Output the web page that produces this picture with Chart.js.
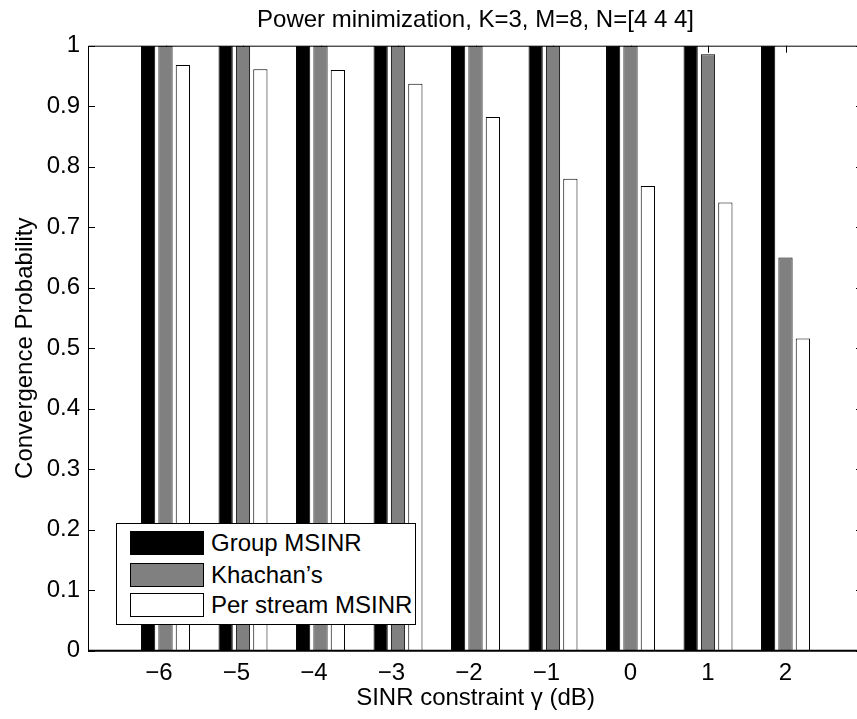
<!DOCTYPE html>
<html>
<head>
<meta charset="utf-8">
<title>Power minimization</title>
<script src="https://cdn.jsdelivr.net/npm/chart.js@4.4.0/dist/chart.umd.min.js"></script>
<style>
    html, body { margin: 0; padding: 0; background: #fff; overflow: hidden; }
    #wrap { position: relative; width: 857px; height: 719px; overflow: hidden; }
    #chart { position: absolute; left: 0; top: 0; }
    #legend {
        position: absolute; left: 116px; top: 523px; width: 300px; height: 102px;
        box-sizing: border-box; border: 1px solid #000; background: #fff;
        font-family: "Liberation Sans", Arial, sans-serif; font-size: 24px; color: #000;
    }
    .row { position: absolute; left: 13px; height: 24px; }
    .sw { position: absolute; left: 0; top: 0; width: 74px; height: 24px; box-sizing: border-box; border: 1px solid #000; }
    .lbl { position: absolute; left: 81px; top: 0; line-height: 24px; white-space: nowrap; }
</style>
</head>
<body>
<div id="wrap">
    <!-- the axes box runs a few pixels past the right edge of the figure -->
    <canvas id="chart" width="863" height="719"></canvas>
    <div id="legend"></div>
</div>
<script>
// SINR constraint (dB)
const sinrValues = [-6, -5, -4, -3, -2, -1, 0, 1, 2];
const xTickLabels = ['\u22126', '\u22125', '\u22124', '\u22123', '\u22122', '\u22121', '0', '1', '2'];

// convergence probability per method
const groupMsinr = [1, 1, 1, 1, 1, 1, 1, 1, 1];
const khachan = [1, 1, 1, 1, 1, 1, 1, 0.986, 0.65];
const perStreamMsinr = [0.968, 0.961, 0.96, 0.937, 0.882, 0.78, 0.768, 0.741, 0.516];

const seriesNames = ['Group MSINR', 'Khachan\u2019s', 'Per stream MSINR'];
const seriesColors = ['#000000', '#808080', '#ffffff'];

const yTickValues = [0, 0.1, 0.2, 0.3, 0.4, 0.5, 0.6, 0.7, 0.8, 0.9, 1];
const yTickLabels = ['0', '0.1', '0.2', '0.3', '0.4', '0.5', '0.6', '0.7', '0.8', '0.9', '1'];

Chart.defaults.font.family = '"Liberation Sans", Arial, sans-serif';
Chart.defaults.font.size = 24;
Chart.defaults.color = '#000';

function points(values) {
    return sinrValues.map((x, i) => ({x: x, y: values[i]}));
}

// matlab style box with ticks pointing inwards
const axesBox = {
    id: 'axesBox',
    beforeDatasetsDraw(chart) {
        const ctx = chart.ctx;
        const a = chart.chartArea;
        const xs = chart.scales.x, ys = chart.scales.y;
        const len = 7;
        ctx.save();
        ctx.strokeStyle = '#000';
        ctx.lineWidth = 1;
        ctx.beginPath();
        sinrValues.forEach(v => {
            const px = Math.round(xs.getPixelForValue(v)) + 0.5;
            ctx.moveTo(px, a.bottom); ctx.lineTo(px, a.bottom - len);
            ctx.moveTo(px, a.top); ctx.lineTo(px, a.top + len);
        });
        yTickValues.forEach(v => {
            const py = Math.round(ys.getPixelForValue(v)) + 0.5;
            ctx.moveTo(a.left, py); ctx.lineTo(a.left + len, py);
            ctx.moveTo(a.right, py); ctx.lineTo(a.right - len, py);
        });
        ctx.stroke();
        ctx.restore();
    },
    afterDatasetsDraw(chart) {
        const ctx = chart.ctx;
        const a = chart.chartArea;
        ctx.save();
        ctx.strokeStyle = '#000';
        ctx.lineWidth = 1;
        ctx.beginPath();
        ctx.moveTo(a.right, a.top + 0.5);
        ctx.lineTo(a.left + 0.5, a.top + 0.5);
        ctx.lineTo(a.left + 0.5, a.bottom);
        ctx.stroke();
        ctx.lineWidth = 2;
        ctx.beginPath();
        ctx.moveTo(a.left, a.bottom);
        ctx.lineTo(a.right, a.bottom);
        ctx.stroke();
        ctx.restore();
    }
};

function renderChart() {
    const chartID = document.getElementById('chart').getContext('2d');
    const chart = new Chart(chartID, {
        type: 'bar',
        data: {
            datasets: [groupMsinr, khachan, perStreamMsinr].map((vals, i) => ({
                label: seriesNames[i],
                data: points(vals),
                backgroundColor: seriesColors[i],
                borderColor: '#000',
                borderWidth: 1,
                categoryPercentage: 0.672,
                barPercentage: 0.82
            }))
        },
        options: {
            responsive: false,
            animation: false,
            devicePixelRatio: 1,
            layout: {padding: 0},
            plugins: {
                legend: {display: false},
                tooltip: {enabled: false},
                title: {
                    display: true,
                    fullSize: false,
                    text: 'Power minimization, K=3, M=8, N=[4 4 4]',
                    font: {size: 24, weight: 'normal'},
                    color: '#000',
                    padding: {top: 5.6, bottom: 11.3}
                }
            },
            scales: {
                x: {
                    type: 'linear',
                    min: -7,
                    max: 3,
                    offset: false,
                    grid: {display: false, offset: false, drawTicks: false},
                    border: {display: false},
                    afterBuildTicks: s => { s.ticks = sinrValues.map(v => ({value: v})); },
                    afterFit: s => { s.height = 68.3; },
                    ticks: {
                        padding: 8,
                        maxRotation: 0,
                        autoSkip: false,
                        // minus sign hangs left of the centred digit
                        callback: (v, i) => xTickLabels[i] + (xTickLabels[i].charAt(0) === '\u2212' ? '\u2007' : '')
                    },
                    title: {
                        display: true,
                        text: 'SINR constraint \u03b3 (dB)',
                        font: {size: 24},
                        padding: {top: 0, bottom: 6.1}
                    }
                },
                y: {
                    min: 0,
                    max: 1,
                    grid: {display: false, drawTicks: false},
                    border: {display: false},
                    afterBuildTicks: s => { s.ticks = yTickValues.map(v => ({value: v})); },
                    afterFit: s => { s.width = 88; },
                    ticks: {
                        padding: 8,
                        callback: (v, i) => yTickLabels[i]
                    },
                    title: {
                        display: true,
                        text: 'Convergence Probability',
                        font: {size: 24},
                        padding: {top: 10.6, bottom: 0}
                    }
                }
            }
        },
        plugins: [axesBox]
    });
    return chart;
}

function renderLegend(chart) {
    const box = document.getElementById('legend');
    const tops = [7, 39, 69];
    chart.data.datasets.forEach((ds, i) => {
        const row = document.createElement('div');
        row.className = 'row';
        row.style.top = tops[i] + 'px';
        const sw = document.createElement('div');
        sw.className = 'sw';
        sw.style.background = ds.backgroundColor;
        const lbl = document.createElement('div');
        lbl.className = 'lbl';
        lbl.innerText = ds.label;
        row.appendChild(sw);
        row.appendChild(lbl);
        box.appendChild(row);
    });
}

const chart = renderChart();
renderLegend(chart);
</script>
</body>
</html>
